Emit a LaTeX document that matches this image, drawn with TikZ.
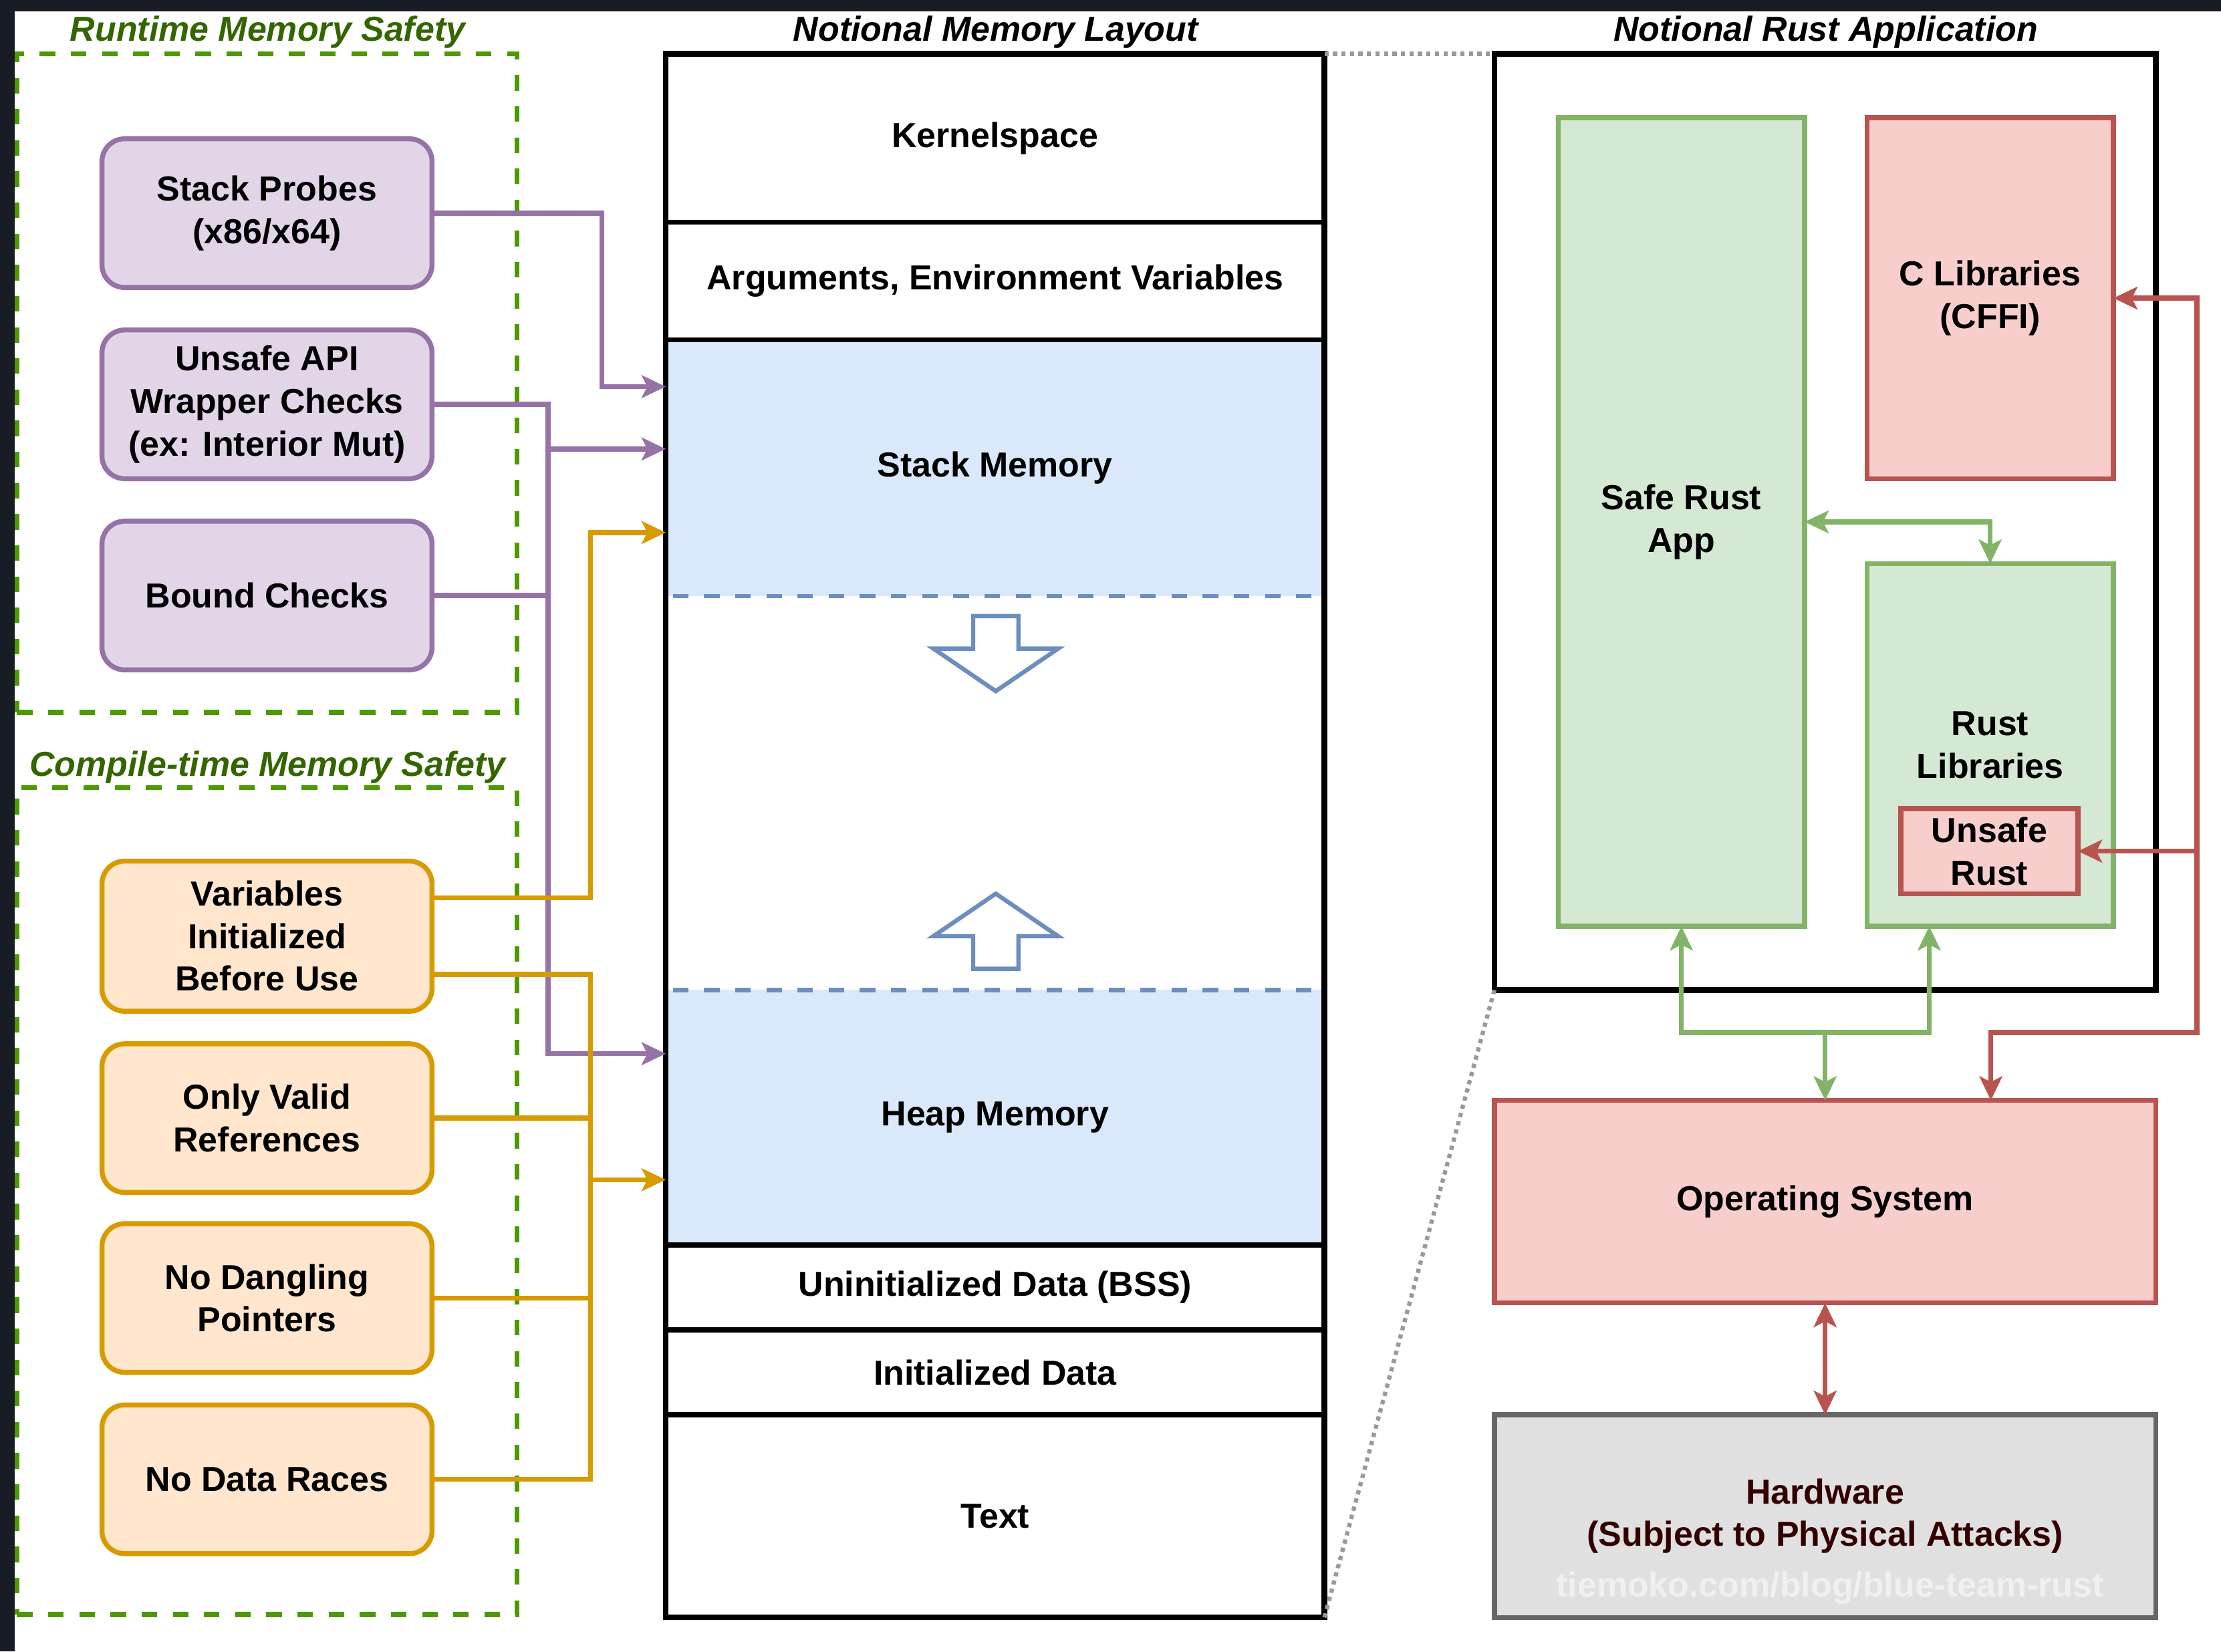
\documentclass[tikz,border=0pt]{standalone}
\usepackage{fontspec}
\setmainfont{Liberation Sans}
\usetikzlibrary{arrows.meta,calc}

\definecolor{darkbg}{HTML}{181C24}
\definecolor{purpfill}{HTML}{E1D5E7}
\definecolor{purpdraw}{HTML}{9673A6}
\definecolor{orgfill}{HTML}{FFE6CC}
\definecolor{orgdraw}{HTML}{D79B00}
\definecolor{grnfill}{HTML}{D5E8D4}
\definecolor{grndraw}{HTML}{82B366}
\definecolor{redfill}{HTML}{F8CECC}
\definecolor{reddraw}{HTML}{B85450}
\definecolor{bluefill}{HTML}{DAE8FC}
\definecolor{bluedraw}{HTML}{6C8EBF}
\definecolor{hwfill}{HTML}{E0E0E0}
\definecolor{hwdraw}{HTML}{666666}
\definecolor{hwtext}{HTML}{330000}
\definecolor{framegreen}{HTML}{4D9900}
\definecolor{titlegreen}{HTML}{336600}
\definecolor{dotgray}{HTML}{999999}

\newcommand{\boxfont}{\fontsize{24.5}{30}\selectfont\bfseries}
\newcommand{\titlefont}{\fontsize{24.5}{30}\selectfont\bfseries\itshape}

\tikzset{
  box/.style={rectangle, inner sep=0pt, outer sep=0pt, align=center, font=\boxfont, line width=3.5pt},
  runtimebox/.style={box, rounded corners=16pt, draw=purpdraw, fill=purpfill, minimum width=233pt, minimum height=105pt},
  compilebox/.style={box, rounded corners=16pt, draw=orgdraw, fill=orgfill, minimum width=233pt, minimum height=105pt},
  memrow/.style={box, draw=black, minimum width=465pt},
  memfill/.style={box, fill=bluefill, minimum width=465pt},
  greenbox/.style={box, draw=grndraw, fill=grnfill},
  redbox/.style={box, draw=reddraw, fill=redfill},
  frame/.style={rectangle, draw=framegreen, line width=3.5pt, dash pattern=on 11pt off 11pt, inner sep=0pt, outer sep=0pt},
  title/.style={font=\titlefont, inner sep=0pt},
  purpline/.style={draw=purpdraw, line width=3.5pt},
  orgline/.style={draw=orgdraw, line width=3.5pt},
  grnline/.style={draw=grndraw, line width=3.5pt},
  redline/.style={draw=reddraw, line width=3.5pt},
  dotline/.style={draw=dotgray, line width=3pt, dash pattern=on 3pt off 3pt},
  blockarrow/.style={draw=bluedraw, fill=white, line width=3pt},
  >={Stealth[length=17pt,width=16pt,inset=4pt]}
}

\begin{document}
\begin{tikzpicture}[x=1pt,y=-1pt]

\useasboundingbox (0,0) rectangle (1568,1166);
\fill[white] (0,0) rectangle (1568,1166);
\fill[darkbg] (0,0) rectangle (1568,8);
\fill[darkbg] (0,0) rectangle (10.5,1166);

% left: safety checks
\node[frame, minimum width=353pt, minimum height=465pt] (runtime) at (188.5,270.5) {};
\node[frame, minimum width=353pt, minimum height=584pt] (compiletime) at (188.5,848) {};
\node[title, text=titlegreen] (runtimetitle) at (189,22.5) {Runtime Memory Safety};
\node[title, text=titlegreen] (compiletitle) at (189,541.5) {Compile-time Memory Safety};

\node[runtimebox] (probes) at (188.5,150.5) {Stack Probes\\(x86/x64)};
\node[runtimebox] (api) at (188.5,285.5) {Unsafe API\\Wrapper Checks\\(ex: Interior Mut)};
\node[runtimebox] (bound) at (188.5,420.5) {Bound Checks};

\node[compilebox, minimum height=106pt] (vars) at (188.5,661) {Variables\\Initialized\\Before Use};
\node[compilebox] (valid) at (188.5,789.5) {Only Valid\\References};
\node[compilebox] (dangling) at (188.5,916.5) {No Dangling\\Pointers};
\node[compilebox] (races) at (188.5,1044.5) {No Data Races};

% middle: memory layout
\node[title] (layouttitle) at (703,22.5) {Notional Memory Layout};
\node[memfill, minimum height=181pt] (stack) at (702.5,330.5) {Stack Memory};
\node[memfill, minimum height=180pt] (heap) at (702.5,789) {Heap Memory};
\node[memrow, minimum height=119pt] (kernel) at (702.5,97.5) {Kernelspace};
\node[memrow, minimum height=83pt] (args) at (702.5,198.5) {Arguments, Environment Variables};
\node[memrow, minimum height=60pt] (bss) at (702.5,909) {Uninitialized Data (BSS)};
\node[memrow, minimum height=60pt] (idata) at (702.5,969) {Initialized Data};
\node[memrow, minimum height=143pt] (textseg) at (702.5,1070.5) {Text};

\draw[draw=bluedraw, line width=3pt, dash pattern=on 11pt off 11pt] ([xshift=5pt]stack.south west) -- ([xshift=-5pt]stack.south east);
\draw[draw=bluedraw, line width=3pt, dash pattern=on 11pt off 11pt] ([xshift=5pt]heap.north west) -- ([xshift=-5pt]heap.north east);

\draw[blockarrow] (687,435) -- (719,435) -- (719,458) -- (747,458) -- (703,488) -- (659,458) -- (687,458) -- cycle;
\draw[blockarrow] (687,684) -- (719,684) -- (719,661) -- (747,661) -- (703,631) -- (659,661) -- (687,661) -- cycle;

\node[rectangle, draw=black, line width=4pt, inner sep=0pt, outer sep=0pt, minimum width=465pt, minimum height=1104pt] (layout) at (702.5,590) {};

% right: rust application
\node[title] (apptitle) at (1289,22.5) {Notional Rust Application};
\node[rectangle, draw=black, line width=4pt, inner sep=0pt, outer sep=0pt, minimum width=467pt, minimum height=661pt] (app) at (1288.5,368.5) {};
\node[greenbox, minimum width=174pt, minimum height=571pt] (safe) at (1187,368.5) {Safe Rust\\App};
\node[redbox, minimum width=174pt, minimum height=255pt] (clib) at (1405,210.5) {C Libraries\\(CFFI)};
\node[greenbox, minimum width=174pt, minimum height=256pt] (rustlib) at (1405,526) {Rust\\Libraries};
\node[redbox, minimum width=125pt, minimum height=60pt] (unsafe) at (1404.5,601) {Unsafe\\Rust};

\node[redbox, minimum width=467pt, minimum height=143pt] (os) at (1288.5,848.5) {Operating System};
\node[box, draw=hwdraw, fill=hwfill, text=hwtext, minimum width=467pt, minimum height=143pt] (hw) at (1288.5,1070.5) {Hardware\\(Subject to Physical Attacks)};
\node[font=\boxfont, text=white!94!black, inner sep=0pt] (mark) at (1292,1121) {tiemoko.com/blog/blue-team-rust};

\draw[dotline] (layout.north east) -- (app.north west);
\draw[dotline] (layout.south east) -- (app.south west);

% runtime checks into the stack and heap
\draw[purpline, ->] (probes.east) -- ++(120,0) |- ([yshift=-33pt]stack.north west);
\draw[purpline, ->] (api.east) -- ++(82,0) coordinate (pbus) |- ([yshift=-45pt]heap.north west);
\coordinate (stackin) at ([yshift=-77pt]stack.north west);
\draw[purpline, ->] (stackin -| pbus) -- (stackin);
\draw[purpline] (bound.east) -- (bound.east -| pbus);

% compile-time checks
\draw[orgline, ->] ([yshift=27pt]vars.east) -- ++(112,0) |- ([yshift=-136pt]stack.north west);
\draw[orgline] ([yshift=-27pt]vars.east) -- ++(112,0) coordinate (obus) |- (races.east);
\coordinate (heapin) at ([yshift=-134pt]heap.north west);
\draw[orgline, ->] (heapin -| obus) -- (heapin);
\draw[orgline] (valid.east) -- (valid.east -| obus);
\draw[orgline] (dangling.east) -- (dangling.east -| obus);

% application wiring
\draw[grnline, <->] (safe.east) -| (rustlib.north);
\coordinate (gbus) at ([yshift=48pt]os.north);
\draw[grnline, ->] (gbus) -- (os.north);
\draw[grnline, ->] (gbus) -| (safe.south);
\draw[grnline, ->] (gbus) -| ([xshift=-43pt]rustlib.south);

\draw[redline, <->] (clib.east) -- ++(59,0) coordinate (rtop) |- ([xshift=117pt,yshift=48pt]os.north) -- ([xshift=117pt]os.north);
\draw[redline, ->] (rtop |- unsafe.east) -- (unsafe.east);
\draw[redline, <->] (os.south) -- (hw.north);

\end{tikzpicture}
\end{document}
